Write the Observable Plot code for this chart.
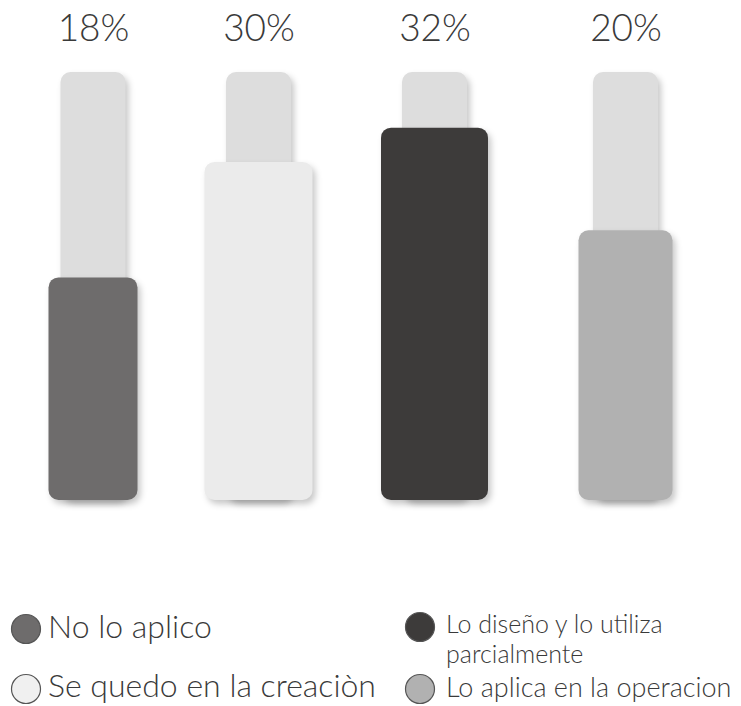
<!DOCTYPE html>
<html>
<head>
<meta charset="utf-8">
<script src="https://cdn.jsdelivr.net/npm/d3@7"></script>
<script src="https://cdn.jsdelivr.net/npm/@observablehq/plot@0.6"></script>
<style>
  html, body { margin: 0; padding: 0; background: #ffffff; }
  #wrap { position: relative; width: 741px; height: 706px; overflow: hidden; font-family: "Lato", "Noto Sans", sans-serif; }
  #chart { position: absolute; left: 0; top: 0; }
  #chart svg g[aria-label="bar"] rect { filter: drop-shadow(3px 4px 3px rgba(0,0,0,0.22)); }
  #legend { position: absolute; left: 0; top: 0; }
</style>
</head>
<body>
<div id="wrap">
  <div id="chart"></div>
  <svg id="legend" width="741" height="706"></svg>
</div>
<script>
// ---- data ----
const categories = ["No lo aplico", "Se quedo en la creaciòn", "Lo diseño y lo utiliza parcialmente", "Lo aplica en la operacion"];
const percents = [18, 30, 32, 20];
// bar heights as drawn in the picture, relative to the full track (= 100)
const barLevels = [52, 79, 87, 63];
const trackLevel = 100;

// ---- styles ----
const barColors = ["#6e6c6c", "#ebebeb", "#3d3b3a", "#b1b1b1"];
const trackColor = "#dddddd";
const barInsets = [44, 34.5, 35, 41.5];
const trackInset = 56;
const groupShift = [-1.5, -13, -14, 0];

const rows = categories.map((c, i) => ({cat: c, pct: percents[i], level: barLevels[i], color: barColors[i]}));

const marks = [];
rows.forEach((r, i) => {
  marks.push(Plot.barY([r], {x: "cat", y: () => trackLevel, fill: trackColor, rx: 10,
    insetLeft: trackInset, insetRight: trackInset, dx: groupShift[i]}));
});
rows.forEach((r, i) => {
  marks.push(Plot.barY([r], {x: "cat", y: "level", fill: "color", rx: 10,
    insetLeft: barInsets[i], insetRight: barInsets[i], dx: groupShift[i]}));
});
rows.forEach((r, i) => {
  marks.push(Plot.text([r], {
    x: "cat", text: d => d.pct + "%", frameAnchor: "top", lineAnchor: "bottom", dy: 40, dx: groupShift[i],
    fontSize: 37, fontWeight: 300, fill: "#3a3a3a", fontFamily: "Lato"
  }));
});

const plot = Plot.plot({
  width: 741,
  height: 540,
  marginTop: 0, marginBottom: 0, marginLeft: 0, marginRight: 0,
  x: {type: "band", domain: categories, range: [4, 715], padding: 0, axis: null},
  y: {domain: [0, 100], range: [500, 72], axis: null},
  color: {type: "identity"},
  style: {background: "transparent", fontFamily: "Lato"},
  marks
});
document.getElementById("chart").appendChild(plot);

// ---- legend ----
const legendItems = [
  {lines: [categories[0]], color: barColors[0], cx: 26, cy: 629, tx: 48, ty: 638, fs: 32},
  {lines: [categories[1]], color: "#f0f0f0", cx: 26, cy: 689, tx: 48, ty: 697, fs: 32},
  {lines: ["Lo diseño y lo utiliza", "parcialmente"], color: barColors[2], cx: 420, cy: 627, tx: 446, ty: 633, fs: 25},
  {lines: [categories[3]], color: barColors[3], cx: 420, cy: 689, tx: 446, ty: 697, fs: 27}
];
const lg = d3.select("#legend");
legendItems.forEach(it => {
  lg.append("circle").attr("cx", it.cx).attr("cy", it.cy).attr("r", 14.5)
    .attr("fill", it.color).attr("stroke", "#555").attr("stroke-width", 1.2);
  it.lines.forEach((ln, k) => {
    lg.append("text").attr("x", it.tx).attr("y", it.ty + k * 30)
      .attr("font-family", "Lato").attr("font-weight", 300).attr("font-size", it.fs).attr("fill", "#3a3a3a")
      .text(ln);
  });
});
</script>
</body>
</html>
